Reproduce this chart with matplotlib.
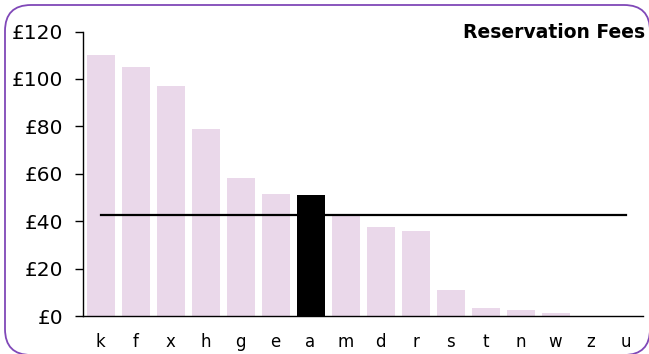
import numpy as np
import matplotlib
matplotlib.use("Agg")
import matplotlib.pyplot as plt
from matplotlib.patches import FancyBboxPatch
from matplotlib.transforms import IdentityTransform

plt.rcParams['font.family'] = ['DejaVu Sans']

# ==========================================
# Data
# ==========================================
categories = ['k', 'f', 'x', 'h', 'g', 'e', 'a', 'm', 'd', 'r', 's', 't', 'n', 'w', 'z', 'u']
fees = [110, 105, 97, 79, 58, 51.5, 51, 42.5, 37.5, 36, 11, 3.5, 2.5, 1.3, 0, 0]
highlight = 'a'
average_fee = 42.6
y_ticks = [0, 20, 40, 60, 80, 100, 120]

PINK = '#ead8ea'
PURPLE = '#8048b8'

fig = plt.figure(figsize=(6.49, 3.54), dpi=100)
ax = fig.add_axes([83 / 649, 1 - 316 / 354, 560 / 649, (316 - 31.5) / 354])

x = np.arange(len(categories))
colors = ['black' if c == highlight else PINK for c in categories]
ax.bar(x, fees, width=0.8, color=colors, zorder=2)
ax.plot([x[0], x[-1]], [average_fee, average_fee], color='black', linewidth=1.6, zorder=3)

ax.set_xlim(-0.5, len(categories) - 0.5)
ax.set_ylim(0, 120)
ax.set_yticks(y_ticks)
ax.set_yticklabels([f'£{v}' for v in y_ticks], fontsize=14.5)
ax.set_xticks(x)
ax.set_xticklabels(categories, fontsize=12)

ax.tick_params(axis='y', length=6, width=1, pad=8, color='black')
ax.tick_params(axis='x', length=0, pad=12)

ax.spines['top'].set_visible(False)
ax.spines['right'].set_visible(False)
ax.spines['left'].set_linewidth(1)
ax.spines['bottom'].set_linewidth(1)

fig.text(645 / 649, 1 - 32 / 354, 'Reservation Fees', fontsize=13.5, fontweight='bold',
         ha='right', va='center')

# rounded purple frame, drawn in pixel coordinates (right/bottom edges at the image border)
frame = FancyBboxPatch((5, -1), 645, 350,
                       boxstyle='round,pad=0,rounding_size=26',
                       transform=IdentityTransform(), fill=False,
                       edgecolor=PURPLE, linewidth=1.3)
fig.patches.append(frame)

fig.savefig('out.png', dpi=100)
